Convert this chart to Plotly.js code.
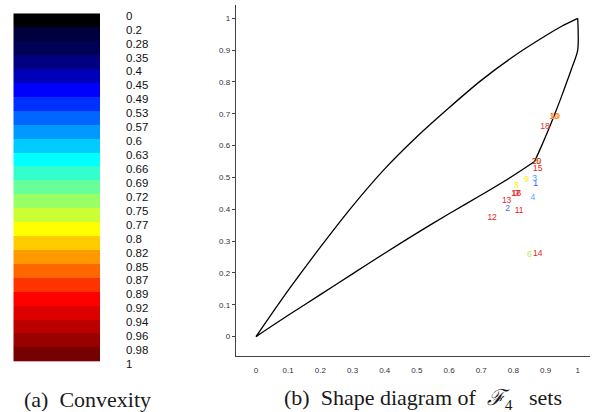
<!DOCTYPE html>
<html>
<head>
<meta charset="utf-8">
<script src="https://cdn.plot.ly/plotly-3.0.1.min.js"></script>
<style>html,body{margin:0;padding:0;background:#fff;}#plot{width:596px;height:412px;}</style>
</head>
<body>
<div id="plot"></div>
<script>
// Colour legend (convexity classes)
const legendLabels = ['0','0.2','0.28','0.35','0.4','0.45','0.49','0.53','0.57','0.6','0.63','0.66','0.69','0.72','0.75','0.77','0.8','0.82','0.85','0.87','0.89','0.92','0.94','0.96','0.98','1'];
const legendColors = ['#000000','#00003f','#000055','#000080','#0000b8','#0000ff','#0030ff','#0066ff','#0099ff','#00ccff','#00ffff','#33ffcc','#66ff99','#99ff66','#ccff33','#ffff00','#ffcc00','#ff9900','#ff6600','#ff3300','#ff0000','#dd0000','#bb0000','#990000','#770000'];

// Shape diagram boundary
const upperX = [0, 0.1, 0.2, 0.3, 0.4, 0.5, 0.6, 0.7, 0.8, 0.9, 0.95, 1.0];
const upperY = [0, 0.145, 0.281, 0.410, 0.527, 0.628, 0.719, 0.805, 0.880, 0.945, 0.975, 1.0];
const rightX = [1.000, 1.000, 0.984, 0.966, 0.948, 0.929, 0.909, 0.888, 0.866];
const rightY = [1.000, 0.900, 0.850, 0.800, 0.750, 0.700, 0.650, 0.600, 0.550];
const lowerX = [0.866, 0.8, 0.7, 0.6, 0.5, 0.4, 0.3, 0.2, 0.1, 0];
const lowerY = [0.550, 0.506, 0.445, 0.386, 0.325, 0.262, 0.197, 0.132, 0.067, 0];

// F4 sets
const setLabels = ['1','2','3','4','5','6','7','8','9','10','11','12','13','14','15','16','17','18','19','20'];
const setX = [0.869, 0.782, 0.866, 0.861, 0.877, 0.850, 0.812, 0.810, 0.841, 0.927, 0.818, 0.734, 0.779, 0.876, 0.876, 0.810, 0.808, 0.898, 0.931, 0.872];
const setY = [0.480, 0.400, 0.496, 0.435, 0.549, 0.256, 0.447, 0.473, 0.492, 0.689, 0.394, 0.372, 0.427, 0.260, 0.526, 0.447, 0.447, 0.658, 0.689, 0.549];
const setColors = ['#3355ff','#2f6fff','#2fa0ff','#45aaff','#ddb000','#bbf040','#ee2020','#f2f000','#f2f000','#ee2020','#ee2020','#ee2020','#ee2020','#ee2020','#ee2020','#ee2020','#ee2020','#e03030','#ffb000','#b01818'];

const xTicks = [0,0.1,0.2,0.3,0.4,0.5,0.6,0.7,0.8,0.9,1];

const W = 596, H = 412;
const px = v => v / W, py = v => 1 - v / H;

// legend heatmap
const nB = legendColors.length;
const cellH = (361.7 - 13.3) / nB;
const zCol = [];
const yCent = [];
for (let i = 0; i < nB; i++) { zCol.push([i]); yCent.push(i + 0.5); }
const cs = legendColors.map((c, i) => [i / (nB - 1), c]);

const line = {color: '#000', width: 1.3, shape: 'spline', smoothing: 0.8};
const traces = [
  {type: 'heatmap', z: zCol, y: yCent, x: [0], colorscale: cs, zmin: 0, zmax: nB - 1,
   showscale: false, xaxis: 'x2', yaxis: 'y2', hoverinfo: 'skip', xgap: 0, ygap: 0},
  {type: 'scatter', mode: 'lines', x: upperX, y: upperY, line: line, xaxis: 'x', yaxis: 'y'},
  {type: 'scatter', mode: 'lines', x: rightX, y: rightY, line: line, xaxis: 'x', yaxis: 'y'},
  {type: 'scatter', mode: 'lines', x: lowerX, y: lowerY, line: line, xaxis: 'x', yaxis: 'y'},
  {type: 'scatter', mode: 'text', x: setX, y: setY, text: setLabels, textposition: 'middle center',
   textfont: {family: 'Liberation Sans, Arial, sans-serif', size: 8.5, color: setColors}, xaxis: 'x', yaxis: 'y'}
];

const tickFont = {family: 'Liberation Sans, Arial, sans-serif', size: 8, color: '#333'};
const layout = {
  width: W, height: H,
  margin: {l: 0, r: 0, t: 0, b: 0},
  paper_bgcolor: '#fff', plot_bgcolor: '#fff',
  showlegend: false,
  font: {family: 'Liberation Sans, Arial, sans-serif'},
  xaxis: {domain: [px(236), px(590)], range: [-0.0622, 1.0382], anchor: 'y',
    tickvals: xTicks, ticks: 'outside', ticklen: 6, tickcolor: 'rgba(0,0,0,0)',
    showline: true, linecolor: '#444', linewidth: 1.2, showgrid: false, zeroline: false, tickfont: tickFont},
  yaxis: {domain: [py(356), py(5)], range: [-0.0609, 1.0418], anchor: 'x',
    tick0: 0, dtick: 0.1, ticks: 'outside', ticklen: 3, tickcolor: '#444', tickwidth: 1,
    showline: true, linecolor: '#444', linewidth: 1.2, showgrid: false, zeroline: false, tickfont: tickFont},
  xaxis2: {domain: [px(13.3), px(100)], range: [-0.5, 0.5], anchor: 'y2', showticklabels: false,
    showgrid: false, zeroline: false, showline: false, ticks: ''},
  yaxis2: {domain: [py(361.7 + 0.6 * cellH), py(13.3)], range: [nB + 0.6, 0], anchor: 'x2', side: 'right',
    tickvals: legendLabels.map((_, i) => i + 0.17), ticktext: legendLabels, ticks: '',
    ticklabelstandoff: 25, showgrid: false, zeroline: false, showline: false,
    tickfont: {family: 'Liberation Sans, Arial, sans-serif', size: 11.5, color: '#111'}},
  annotations: [
    {xref: 'paper', yref: 'paper', x: px(87), y: py(399), xanchor: 'center', yanchor: 'middle', showarrow: false,
     text: '(a)&nbsp;&nbsp;Convexity', font: {family: 'Liberation Serif, Times New Roman, serif', size: 22, color: '#1a1a1a'}},
    {xref: 'paper', yref: 'paper', x: px(423), y: py(399), xanchor: 'center', yanchor: 'middle', showarrow: false,
     text: '(b)&nbsp;&nbsp;Shape diagram of&nbsp;&nbsp;<i>ℱ</i><sub>4</sub>&nbsp;&nbsp;&nbsp;sets', font: {family: 'Liberation Serif, Times New Roman, serif', size: 22, color: '#1a1a1a'}}
  ]
};
Plotly.newPlot('plot', traces, layout, {staticPlot: true, displayModeBar: false});
</script>
</body>
</html>
